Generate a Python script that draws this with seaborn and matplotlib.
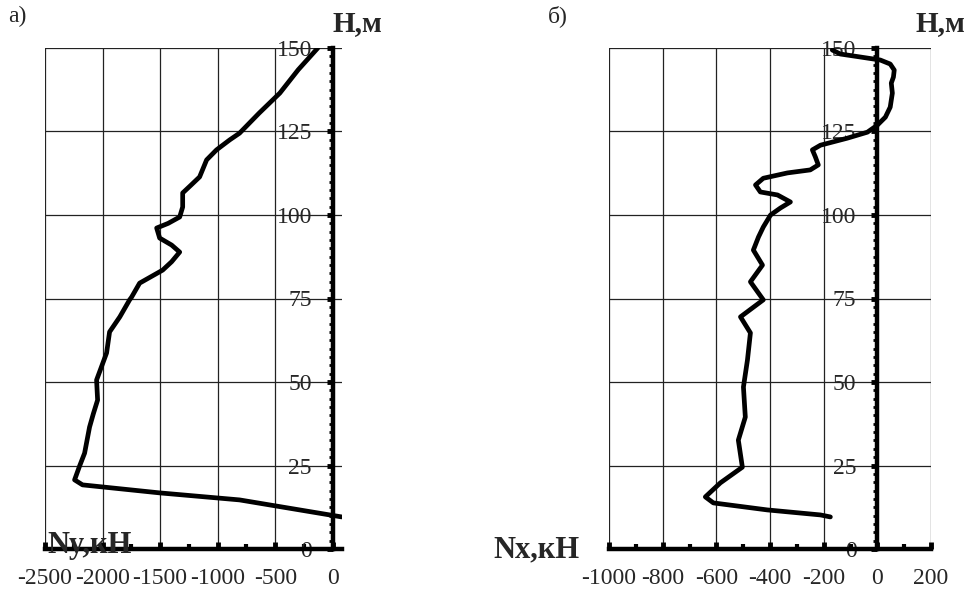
import numpy as np
import pandas as pd
import matplotlib
matplotlib.use("Agg")
import matplotlib.pyplot as plt
from matplotlib.ticker import MultipleLocator
import seaborn as sns

# panel a: Ny (kN) along height H (m)
ny_force = [-130, -300, -460, -640, -810, -895, -1010, -1096, -1157, -1230,
            -1304, -1304, -1330, -1430, -1530, -1504, -1400, -1330, -1400, -1478,
            -1678, -1748, -1765, -1850, -1939, -1965, -2010, -2052, -2043, -2080,
            -2113, -2156, -2200, -2243, -2174, -1504, -810, 78]
ny_height = [150, 143.5, 136.5, 130.5, 124.5, 122.5, 119.5, 116.5, 111.4, 109,
             106.6, 102.4, 99.4, 97.5, 96.1, 93.1, 91, 88.9, 86, 83.5,
             79.6, 75.4, 74.6, 69.5, 65, 58.7, 54.5, 50.6, 44.6, 40.5,
             36.5, 28.7, 24.8, 20.7, 19.2, 16.8, 14.7, 9.6]

# panel b: Nx (kN) along height H (m)
nx_force = [-168, -138, -63, 11, 48, 63, 60, 52, 56, 48,
            30, 0, -37, -112, -212, -242, -231, -220, -250, -335,
            -425, -454, -436, -372, -324, -361, -398, -425, -443, -462,
            -428, -473, -425, -510, -473, -484, -499, -492, -518, -503,
            -585, -641, -611, -410, -212, -175]
nx_height = [149.4, 148.2, 147.3, 146.4, 145.2, 143.4, 141.3, 139.5, 136.5, 132.3,
             129.3, 126.9, 124.8, 123, 120.9, 119.5, 117.4, 115, 113.5, 112.6,
             111, 109, 106.9, 106, 103.9, 102.1, 100, 96.4, 93.4, 89.5,
             85, 80, 74.6, 69.5, 64.7, 56.6, 48.5, 39.5, 32.6, 24.5,
             19.8, 15.6, 13.8, 11.7, 10.2, 9.6]

h_ticks = [0, 25, 50, 75, 100, 125, 150]
ny_ticks = [-2500, -2000, -1500, -1000, -500, 0]
nx_ticks = [-1000, -800, -600, -400, -200, 0, 200]

sns.set_style("white")
plt.rcParams["font.family"] = ["Liberation Serif", "DejaVu Serif"]
plt.rcParams["axes.unicode_minus"] = False

fig = plt.figure(figsize=(9.68, 5.97), dpi=100)
W, H = 968, 597


def panel(rect_px, force, height, xticks, xlim, xminor):
    l, t, r, b = rect_px
    ax = fig.add_axes([l / W, 1 - b / H, (r - l) / W, (b - t) / H])
    df = pd.DataFrame({"N": force, "H": height})
    sns.lineplot(data=df, x="N", y="H", sort=False, estimator=None, ax=ax,
                 color="black", linewidth=3.4,
                 solid_joinstyle="round", solid_capstyle="round")
    ax.set_xlim(*xlim)
    ax.set_ylim(0, 150)
    ax.set_xticks(xticks)
    ax.set_yticks(h_ticks)
    ax.xaxis.set_minor_locator(MultipleLocator(xminor))
    ax.yaxis.set_minor_locator(MultipleLocator(2.5))
    ax.grid(True, which="major", color="#222222", linewidth=0.9)
    ax.set_axisbelow(True)
    for s in ["top", "right"]:
        ax.spines[s].set_visible(False)
    ax.spines["left"].set_position(("data", 0))
    ax.spines["bottom"].set_position(("data", 0))
    for s in ["left", "bottom"]:
        ax.spines[s].set_linewidth(3.2)
        ax.spines[s].set_color("black")
        ax.spines[s].set_zorder(5)
    ax.tick_params(axis="x", which="both", bottom=True, top=False)
    ax.tick_params(axis="y", which="both", left=True, right=False)
    ax.tick_params(axis="x", which="major", direction="in", length=5, width=3.5,
                   pad=14, labelsize=17, color="black")
    ax.tick_params(axis="x", which="minor", direction="in", length=3.5, width=3,
                   color="black")
    ax.tick_params(axis="y", which="major", direction="out", length=4, width=3.5,
                   pad=11, labelsize=17, color="black")
    ax.tick_params(axis="y", which="minor", direction="out", length=3, width=2,
                   color="black")
    ax.set_xlabel("")
    ax.set_ylabel("")
    return ax


ax_a = panel((45, 48, 342, 549), ny_force, ny_height, ny_ticks, (-2500, 80), 250)
ax_b = panel((609, 48, 931, 549), nx_force, nx_height, nx_ticks, (-1000, 200), 100)

fig.text(8 / W, 1 - 16 / H, "а)", fontsize=17, va="center", ha="left")
fig.text(548 / W, 1 - 16 / H, "б)", fontsize=17, va="center", ha="left")
fig.text(357 / W, 1 - 24 / H, "H,м", fontsize=21, fontweight="bold",
         va="center", ha="center")
fig.text(940 / W, 1 - 24 / H, "H,м", fontsize=21, fontweight="bold",
         va="center", ha="center")
fig.text(90 / W, 1 - 546 / H, "Ny,кН", fontsize=22, fontweight="bold",
         va="center", ha="center", zorder=10)
fig.text(536 / W, 1 - 550 / H, "Nx,кН", fontsize=22, fontweight="bold",
         va="center", ha="center")

fig.savefig("out.png", dpi=100)
